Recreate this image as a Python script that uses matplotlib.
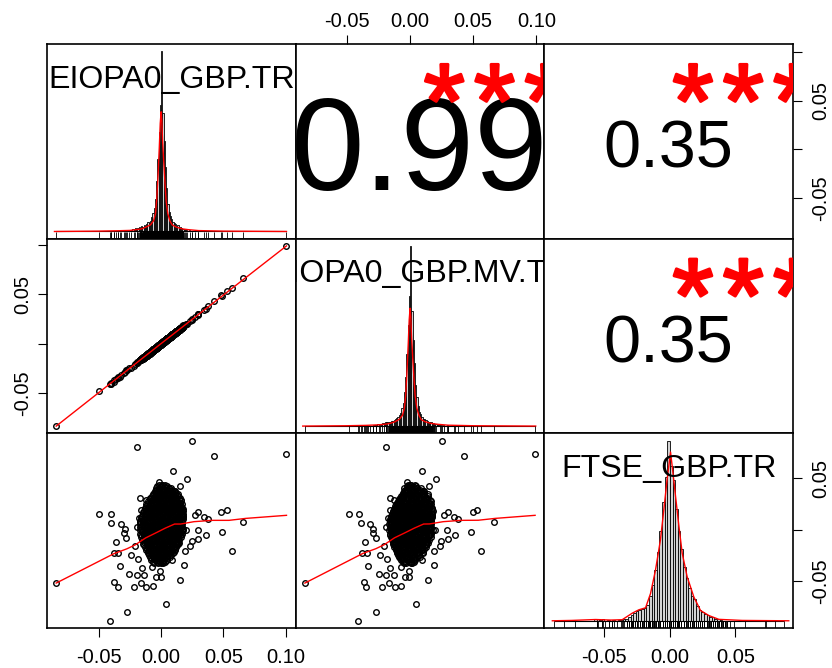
import matplotlib
matplotlib.use("Agg")
import matplotlib.pyplot as plt
import matplotlib.transforms as mtransforms
import matplotlib.patheffects as pe
from matplotlib.textpath import TextPath
from matplotlib.font_manager import FontProperties
import numpy as np

plt.rcParams['font.family'] = ['Liberation Sans', 'DejaVu Sans']

# ------------------------------------------------------------------ data
var_names = ["EIOPA0_GBP.TR", "EIOPA0_GBP.MV.TR", "FTSE_GBP.TR"]
corr_values = {(0, 1): 0.99, (0, 2): 0.35, (1, 2): 0.35}
corr_stars = {(0, 1): "***", (0, 2): "***", (1, 2): "***"}

# outlying observations (TR, MV, FTSE)
tr_out = [-0.0841, -0.0498, -0.0399, -0.0399, -0.0321, -0.0286, -0.0278, -0.0300, -0.0359, -0.0378,
          -0.0348, -0.0330, -0.0375, -0.0346, -0.0254, -0.0219, -0.0276, -0.0407, -0.0195, 0.0247,
          0.0426, 0.1005, 0.0092, 0.0207, 0.0148, 0.0480, 0.0528, 0.0659, 0.0490, 0.0571,
          0.0357, 0.0295, 0.0271, 0.0346, 0.0378, 0.0295, 0.0295, 0.0247, 0.0228, 0.0191,
          0.0182, 0.0148, 0.0040, -0.0002, -0.0045, -0.0067, -0.0123, -0.0161, -0.0134, -0.0193,
          -0.0153, -0.0075, -0.0008, -0.0185, -0.0238, -0.0206, -0.0190, -0.0179, -0.0158, -0.0166,
          -0.0123, -0.0045, -0.0018, 0.0008, 0.0022, 0.0108, 0.0161, 0.0121, 0.0169, 0.0196,
          0.0142, 0.0088]
mv_out = [-0.0833, -0.0482, -0.0405, -0.0392, -0.0315, -0.0290, -0.0270, -0.0297, -0.0355, -0.0383,
          -0.0340, -0.0334, -0.0368, -0.0350, -0.0248, -0.0225, -0.0268, -0.0412, -0.0190, 0.0250,
          0.0429, 0.0990, 0.0097, 0.0203, 0.0152, 0.0498, 0.0531, 0.0663, 0.0486, 0.0565,
          0.0352, 0.0301, 0.0266, 0.0344, 0.0381, 0.0289, 0.0298, 0.0243, 0.0233, 0.0188,
          0.0186, 0.0145, 0.0044, -0.0006, -0.0041, -0.0070, -0.0119, -0.0165, -0.0130, -0.0189,
          -0.0157, -0.0072, -0.0012, -0.0181, -0.0242, -0.0203, -0.0194, -0.0175, -0.0162, -0.0163,
          -0.0127, -0.0042, -0.0021, 0.0011, 0.0019, 0.0111, 0.0158, 0.0125, 0.0166, 0.0199,
          0.0139, 0.0091]
ftse_out = [-0.0521, 0.0153, 0.0153, 0.0062, 0.0059, 0.0010, -0.0081, -0.0036, -0.0117, -0.0228,
            -0.0228, -0.0358, -0.0511, -0.0560, -0.0430, -0.0560, -0.0808, -0.0889, 0.0805, 0.0870,
            0.0723, 0.0736, 0.0574, 0.0492, 0.0427, 0.0169, 0.0196, 0.0071, -0.0023, -0.0212,
            -0.0049, 0.0173, 0.0140, 0.0124, 0.0104, -0.0006, -0.0088, -0.0108, -0.0156, -0.0208,
            -0.0349, -0.0495, -0.0723, -0.0466, -0.0466, -0.0547, -0.0560, -0.0521, -0.0446, -0.0446,
            -0.0375, -0.0365, -0.0407, -0.0287, -0.0245, -0.0163, 0.0026, 0.0110, 0.0196, 0.0310,
            0.0287, 0.0365, 0.0462, 0.0440, 0.0398, 0.0342, 0.0293, 0.0261, 0.0130, 0.0000,
            -0.0130, -0.0293]

# dense central cloud, read row by row (one FTSE level per row)
core_ftse_rows = [0.0440, 0.0408, 0.0376, 0.0344, 0.0312, 0.0280, 0.0248, 0.0216, 0.0184, 0.0152,
                  0.0120, 0.0088, 0.0056, 0.0024, -0.0008, -0.0040, -0.0072, -0.0104, -0.0136, -0.0168,
                  -0.0200, -0.0232, -0.0264, -0.0296, -0.0328,
                  0.0424, 0.0392, 0.0360, 0.0328, 0.0296, 0.0264, 0.0232, 0.0200, 0.0168, 0.0136,
                  0.0104, 0.0072, 0.0040, 0.0008, -0.0024, -0.0056, -0.0088, -0.0120, -0.0152, -0.0184,
                  -0.0216, -0.0248, -0.0280, -0.0312]
core_tr_rows = [
    [-0.0019, 0.0006, 0.0033],
    [-0.0040, -0.0015, 0.0012, 0.0037, 0.0063, 0.0079],
    [-0.0051, -0.0026, 0.0001, 0.0025, 0.0050, 0.0077, 0.0101, 0.0112],
    [-0.0066, -0.0039, -0.0012, 0.0013, 0.0039, 0.0064, 0.0088, 0.0113, 0.0134],
    [-0.0086, -0.0060, -0.0034, -0.0009, 0.0017, 0.0043, 0.0068, 0.0094, 0.0119, 0.0148],
    [-0.0104, -0.0078, -0.0052, -0.0027, -0.0001, 0.0025, 0.0051, 0.0076, 0.0102, 0.0128, 0.0158],
    [-0.0119, -0.0093, -0.0067, -0.0041, -0.0015, 0.0011, 0.0037, 0.0063, 0.0089, 0.0115, 0.0141, 0.0168],
    [-0.0128, -0.0102, -0.0075, -0.0049, -0.0023, 0.0003, 0.0029, 0.0055, 0.0081, 0.0107, 0.0133, 0.0159, 0.0171],
    [-0.0139, -0.0113, -0.0087, -0.0060, -0.0034, -0.0008, 0.0018, 0.0044, 0.0070, 0.0096, 0.0122, 0.0148, 0.0177],
    [-0.0148, -0.0122, -0.0096, -0.0070, -0.0044, -0.0018, 0.0008, 0.0034, 0.0060, 0.0086, 0.0112, 0.0138, 0.0164, 0.0179],
    [-0.0158, -0.0132, -0.0106, -0.0080, -0.0054, -0.0028, -0.0002, 0.0024, 0.0050, 0.0076, 0.0102, 0.0128, 0.0154, 0.0178],
    [-0.0168, -0.0142, -0.0116, -0.0090, -0.0063, -0.0037, -0.0011, 0.0015, 0.0041, 0.0067, 0.0093, 0.0119, 0.0145, 0.0171],
    [-0.0171, -0.0145, -0.0119, -0.0093, -0.0067, -0.0041, -0.0015, 0.0011, 0.0037, 0.0063, 0.0089, 0.0115, 0.0141, 0.0168],
    [-0.0166, -0.0140, -0.0114, -0.0088, -0.0062, -0.0036, -0.0010, 0.0016, 0.0042, 0.0068, 0.0094, 0.0120, 0.0146, 0.0170],
    [-0.0172, -0.0146, -0.0120, -0.0094, -0.0068, -0.0042, -0.0016, 0.0010, 0.0036, 0.0062, 0.0088, 0.0114, 0.0140, 0.0166, 0.0179],
    [-0.0167, -0.0141, -0.0115, -0.0089, -0.0063, -0.0037, -0.0011, 0.0015, 0.0041, 0.0067, 0.0093, 0.0119, 0.0145, 0.0169],
    [-0.0160, -0.0134, -0.0108, -0.0082, -0.0056, -0.0030, -0.0004, 0.0022, 0.0048, 0.0074, 0.0100, 0.0126, 0.0157],
    [-0.0153, -0.0127, -0.0101, -0.0075, -0.0049, -0.0023, 0.0003, 0.0029, 0.0055, 0.0081, 0.0107, 0.0133, 0.0145],
    [-0.0143, -0.0117, -0.0091, -0.0065, -0.0039, -0.0013, 0.0013, 0.0039, 0.0065, 0.0091, 0.0117, 0.0134],
    [-0.0130, -0.0104, -0.0078, -0.0052, -0.0026, 0.0000, 0.0026, 0.0052, 0.0078, 0.0104, 0.0121],
    [-0.0118, -0.0092, -0.0066, -0.0040, -0.0014, 0.0012, 0.0038, 0.0064, 0.0090, 0.0109],
    [-0.0108, -0.0082, -0.0056, -0.0030, -0.0004, 0.0022, 0.0048, 0.0074, 0.0094],
    [-0.0093, -0.0067, -0.0041, -0.0015, 0.0011, 0.0037, 0.0069],
    [-0.0078, -0.0052, -0.0026, 0.0000, 0.0026, 0.0044],
    [-0.0054, -0.0028, -0.0002, 0.0019],
    [-0.0030, -0.0004, 0.0021, 0.0048],
    [-0.0044, -0.0019, 0.0007, 0.0032, 0.0058, 0.0084],
    [-0.0058, -0.0033, -0.0006, 0.0020, 0.0045, 0.0071, 0.0097, 0.0118],
    [-0.0074, -0.0048, -0.0022, 0.0004, 0.0030, 0.0056, 0.0081, 0.0107, 0.0133],
    [-0.0092, -0.0066, -0.0040, -0.0014, 0.0012, 0.0038, 0.0064, 0.0090, 0.0116, 0.0142],
    [-0.0108, -0.0082, -0.0056, -0.0030, -0.0004, 0.0022, 0.0048, 0.0074, 0.0100, 0.0126, 0.0152],
    [-0.0122, -0.0096, -0.0070, -0.0044, -0.0018, 0.0008, 0.0034, 0.0060, 0.0086, 0.0112, 0.0138, 0.0163],
    [-0.0133, -0.0107, -0.0081, -0.0055, -0.0029, -0.0003, 0.0023, 0.0049, 0.0075, 0.0101, 0.0127, 0.0153, 0.0172],
    [-0.0143, -0.0117, -0.0091, -0.0065, -0.0039, -0.0013, 0.0013, 0.0039, 0.0065, 0.0091, 0.0117, 0.0143, 0.0169],
    [-0.0153, -0.0127, -0.0101, -0.0075, -0.0049, -0.0023, 0.0003, 0.0029, 0.0055, 0.0081, 0.0107, 0.0133, 0.0159, 0.0177],
    [-0.0163, -0.0137, -0.0111, -0.0085, -0.0059, -0.0033, -0.0007, 0.0019, 0.0045, 0.0071, 0.0097, 0.0123, 0.0149, 0.0175],
    [-0.0168, -0.0142, -0.0116, -0.0090, -0.0064, -0.0038, -0.0012, 0.0014, 0.0040, 0.0066, 0.0092, 0.0118, 0.0144, 0.0170],
    [-0.0158, -0.0132, -0.0106, -0.0080, -0.0054, -0.0028, -0.0002, 0.0024, 0.0050, 0.0076, 0.0102, 0.0128, 0.0154],
    [-0.0159, -0.0133, -0.0107, -0.0081, -0.0055, -0.0029, -0.0003, 0.0023, 0.0049, 0.0075, 0.0101, 0.0127, 0.0153, 0.0172],
    [-0.0154, -0.0128, -0.0102, -0.0076, -0.0050, -0.0024, 0.0002, 0.0028, 0.0054, 0.0080, 0.0106, 0.0132, 0.0158],
    [-0.0163, -0.0137, -0.0111, -0.0085, -0.0059, -0.0033, -0.0007, 0.0019, 0.0045, 0.0071, 0.0097, 0.0123, 0.0149, 0.0163],
    [-0.0147, -0.0121, -0.0095, -0.0069, -0.0043, -0.0017, 0.0009, 0.0035, 0.0061, 0.0087, 0.0113, 0.0139],
    [-0.0140, -0.0114, -0.0088, -0.0062, -0.0036, -0.0010, 0.0016, 0.0042, 0.0068, 0.0094, 0.0120, 0.0138],
    [-0.0136, -0.0110, -0.0084, -0.0058, -0.0032, -0.0006, 0.0020, 0.0046, 0.0072, 0.0098, 0.0124],
    [-0.0117, -0.0091, -0.0065, -0.0039, -0.0013, 0.0013, 0.0039, 0.0065, 0.0091, 0.0113],
    [-0.0105, -0.0079, -0.0053, -0.0027, -0.0001, 0.0025, 0.0051, 0.0077, 0.0100],
    [-0.0098, -0.0072, -0.0046, -0.0020, 0.0006, 0.0032, 0.0058, 0.0078],
    [-0.0081, -0.0055, -0.0029, -0.0003, 0.0023, 0.0050],
    [-0.0063, -0.0037, -0.0011, 0.0015, 0.0029],
]
core_mv_rows = [
    [-0.0013, 0.0000, 0.0039],
    [-0.0046, -0.0009, 0.0006, 0.0043, 0.0057, 0.0085],
    [-0.0045, -0.0032, 0.0007, 0.0019, 0.0056, 0.0071, 0.0107, 0.0106],
    [-0.0060, -0.0045, -0.0006, 0.0007, 0.0045, 0.0058, 0.0094, 0.0107, 0.0140],
    [-0.0080, -0.0066, -0.0028, -0.0015, 0.0023, 0.0037, 0.0074, 0.0088, 0.0125, 0.0142],
    [-0.0098, -0.0084, -0.0046, -0.0033, 0.0005, 0.0019, 0.0057, 0.0070, 0.0108, 0.0122, 0.0164],
    [-0.0113, -0.0099, -0.0061, -0.0047, -0.0009, 0.0005, 0.0043, 0.0057, 0.0095, 0.0109, 0.0147, 0.0162],
    [-0.0122, -0.0108, -0.0069, -0.0055, -0.0017, -0.0003, 0.0035, 0.0049, 0.0087, 0.0101, 0.0139, 0.0153, 0.0177],
    [-0.0133, -0.0119, -0.0081, -0.0066, -0.0028, -0.0014, 0.0024, 0.0038, 0.0076, 0.0090, 0.0128, 0.0142, 0.0183],
    [-0.0142, -0.0128, -0.0090, -0.0076, -0.0038, -0.0024, 0.0014, 0.0028, 0.0066, 0.0080, 0.0118, 0.0132, 0.0170, 0.0173],
    [-0.0152, -0.0138, -0.0100, -0.0086, -0.0048, -0.0034, 0.0004, 0.0018, 0.0056, 0.0070, 0.0108, 0.0122, 0.0160, 0.0172],
    [-0.0162, -0.0148, -0.0110, -0.0096, -0.0057, -0.0043, -0.0005, 0.0009, 0.0047, 0.0061, 0.0099, 0.0113, 0.0151, 0.0165],
    [-0.0165, -0.0151, -0.0113, -0.0099, -0.0061, -0.0047, -0.0009, 0.0005, 0.0043, 0.0057, 0.0095, 0.0109, 0.0147, 0.0162],
    [-0.0160, -0.0146, -0.0108, -0.0094, -0.0056, -0.0042, -0.0004, 0.0010, 0.0048, 0.0062, 0.0100, 0.0114, 0.0152, 0.0164],
    [-0.0166, -0.0152, -0.0114, -0.0100, -0.0062, -0.0048, -0.0010, 0.0004, 0.0042, 0.0056, 0.0094, 0.0108, 0.0146, 0.0160, 0.0185],
    [-0.0161, -0.0147, -0.0109, -0.0095, -0.0057, -0.0043, -0.0005, 0.0009, 0.0047, 0.0061, 0.0099, 0.0113, 0.0151, 0.0163],
    [-0.0154, -0.0140, -0.0102, -0.0088, -0.0050, -0.0036, 0.0002, 0.0016, 0.0054, 0.0068, 0.0106, 0.0120, 0.0163],
    [-0.0147, -0.0133, -0.0095, -0.0081, -0.0043, -0.0029, 0.0009, 0.0023, 0.0061, 0.0075, 0.0113, 0.0127, 0.0151],
    [-0.0137, -0.0123, -0.0085, -0.0071, -0.0033, -0.0019, 0.0019, 0.0033, 0.0071, 0.0085, 0.0123, 0.0128],
    [-0.0124, -0.0110, -0.0072, -0.0058, -0.0020, -0.0006, 0.0032, 0.0046, 0.0084, 0.0098, 0.0127],
    [-0.0112, -0.0098, -0.0060, -0.0046, -0.0008, 0.0006, 0.0044, 0.0058, 0.0096, 0.0103],
    [-0.0102, -0.0088, -0.0050, -0.0036, 0.0002, 0.0016, 0.0054, 0.0068, 0.0100],
    [-0.0087, -0.0073, -0.0035, -0.0021, 0.0017, 0.0031, 0.0075],
    [-0.0072, -0.0058, -0.0020, -0.0006, 0.0032, 0.0038],
    [-0.0048, -0.0034, 0.0004, 0.0013],
    [-0.0025, -0.0010, 0.0027, 0.0043],
    [-0.0039, -0.0025, 0.0012, 0.0026, 0.0063, 0.0078],
    [-0.0053, -0.0039, -0.0001, 0.0014, 0.0050, 0.0065, 0.0102, 0.0112],
    [-0.0069, -0.0054, -0.0017, -0.0002, 0.0035, 0.0050, 0.0086, 0.0101, 0.0138],
    [-0.0087, -0.0072, -0.0035, -0.0020, 0.0017, 0.0032, 0.0069, 0.0084, 0.0121, 0.0136],
    [-0.0103, -0.0088, -0.0051, -0.0036, 0.0001, 0.0016, 0.0053, 0.0068, 0.0105, 0.0120, 0.0157],
    [-0.0117, -0.0102, -0.0065, -0.0050, -0.0013, 0.0002, 0.0039, 0.0054, 0.0091, 0.0106, 0.0143, 0.0157],
    [-0.0128, -0.0113, -0.0076, -0.0061, -0.0024, -0.0009, 0.0028, 0.0043, 0.0080, 0.0095, 0.0132, 0.0147, 0.0177],
    [-0.0138, -0.0123, -0.0086, -0.0071, -0.0034, -0.0019, 0.0018, 0.0033, 0.0070, 0.0085, 0.0122, 0.0137, 0.0174],
    [-0.0148, -0.0133, -0.0096, -0.0081, -0.0044, -0.0029, 0.0008, 0.0023, 0.0060, 0.0075, 0.0112, 0.0127, 0.0164, 0.0171],
    [-0.0158, -0.0143, -0.0106, -0.0091, -0.0054, -0.0039, -0.0002, 0.0013, 0.0050, 0.0065, 0.0102, 0.0117, 0.0154, 0.0169],
    [-0.0163, -0.0148, -0.0111, -0.0096, -0.0059, -0.0044, -0.0007, 0.0008, 0.0045, 0.0060, 0.0097, 0.0112, 0.0149, 0.0164],
    [-0.0153, -0.0138, -0.0101, -0.0086, -0.0049, -0.0034, 0.0003, 0.0018, 0.0055, 0.0070, 0.0107, 0.0122, 0.0159],
    [-0.0154, -0.0139, -0.0102, -0.0087, -0.0050, -0.0035, 0.0002, 0.0017, 0.0054, 0.0069, 0.0106, 0.0121, 0.0158, 0.0166],
    [-0.0149, -0.0134, -0.0097, -0.0082, -0.0045, -0.0030, 0.0007, 0.0022, 0.0059, 0.0074, 0.0111, 0.0126, 0.0163],
    [-0.0158, -0.0143, -0.0106, -0.0091, -0.0054, -0.0039, -0.0002, 0.0013, 0.0050, 0.0065, 0.0102, 0.0117, 0.0154, 0.0157],
    [-0.0142, -0.0127, -0.0090, -0.0075, -0.0038, -0.0023, 0.0014, 0.0029, 0.0066, 0.0081, 0.0118, 0.0133],
    [-0.0135, -0.0120, -0.0083, -0.0068, -0.0031, -0.0016, 0.0021, 0.0036, 0.0073, 0.0088, 0.0125, 0.0132],
    [-0.0131, -0.0116, -0.0079, -0.0064, -0.0027, -0.0012, 0.0025, 0.0040, 0.0077, 0.0092, 0.0129],
    [-0.0112, -0.0097, -0.0060, -0.0045, -0.0008, 0.0007, 0.0044, 0.0059, 0.0096, 0.0107],
    [-0.0100, -0.0085, -0.0048, -0.0033, 0.0004, 0.0019, 0.0056, 0.0071, 0.0105],
    [-0.0093, -0.0078, -0.0041, -0.0026, 0.0011, 0.0026, 0.0063, 0.0072],
    [-0.0076, -0.0061, -0.0024, -0.0009, 0.0028, 0.0044],
    [-0.0058, -0.0043, -0.0006, 0.0009, 0.0034],
]

# histogram bar heights (relative density) and their bins
tr_hist_start, tr_hist_width = -0.030, 0.001
tr_hist_heights = [0.005, 0, 0.005, 0.01, 0, 0.01, 0.005, 0.015, 0.01, 0.02,
                   0.015, 0.02, 0.025, 0.02, 0.03, 0.025, 0.035, 0.03, 0.04, 0.05,
                   0.045, 0.06, 0.08, 0.10, 0.13, 0.18, 0.28, 0.40, 0.55, 0.70,
                   1.00, 0.66, 0.50, 0.36, 0.24, 0.15, 0.11, 0.085, 0.07, 0.05,
                   0.045, 0.04, 0.03, 0.035, 0.02, 0.025, 0.02, 0.015, 0.01, 0.015,
                   0.01, 0.005, 0.01, 0.005, 0, 0.005, 0, 0.005, 0, 0]
mv_hist_start, mv_hist_width = -0.030, 0.001
mv_hist_heights = [0, 0.005, 0.005, 0.005, 0.01, 0, 0.01, 0.005, 0.015, 0.015,
                   0.02, 0.02, 0.02, 0.025, 0.025, 0.03, 0.03, 0.035, 0.04, 0.045,
                   0.05, 0.06, 0.075, 0.10, 0.13, 0.19, 0.27, 0.40, 0.56, 0.72,
                   1.00, 0.64, 0.48, 0.35, 0.23, 0.16, 0.11, 0.08, 0.065, 0.05,
                   0.04, 0.04, 0.035, 0.03, 0.025, 0.02, 0.02, 0.015, 0.015, 0.01,
                   0.01, 0.01, 0.005, 0.005, 0.005, 0, 0.005, 0, 0, 0.005]
ftse_hist_start, ftse_hist_width = -0.060, 0.002
ftse_hist_heights = [0, 0.01, 0.01, 0.005, 0.01, 0, 0.005, 0, 0.005, 0,
                     0.005, 0.005, 0.01, 0.01, 0.02, 0.03, 0.045, 0.055, 0.06, 0.065,
                     0.07, 0.09, 0.14, 0.20, 0.28, 0.38, 0.50, 0.66, 0.80, 1.00,
                     0.86, 0.78, 0.62, 0.50, 0.40, 0.30, 0.24, 0.18, 0.14, 0.12,
                     0.08, 0.06, 0.05, 0.04, 0.03, 0.02, 0.02, 0.01, 0.01, 0.005]

# kernel density curves (same relative units)
tr_dens_x = [-0.0855, -0.05, -0.035, -0.025, -0.018, -0.0155, -0.012, -0.0085, -0.006, -0.0045,
             -0.0035, -0.0024, -0.0015, -0.0007, 0.0, 0.0005, 0.0012, 0.002, 0.003, 0.004,
             0.0053, 0.007, 0.0088, 0.012, 0.0165, 0.022, 0.03, 0.05, 0.1005]
tr_dens_y = [0.0, 0.002, 0.004, 0.006, 0.012, 0.015, 0.025, 0.037, 0.06, 0.10,
             0.18, 0.32, 0.46, 0.60, 0.664, 0.62, 0.50, 0.40, 0.28, 0.17,
             0.10, 0.06, 0.037, 0.025, 0.015, 0.01, 0.005, 0.002, 0.0]
mv_dens_x = [-0.0850, -0.05, -0.035, -0.025, -0.018, -0.0155, -0.012, -0.0085, -0.006, -0.0045,
             -0.0035, -0.0024, -0.0015, -0.0007, 0.0, 0.0005, 0.0012, 0.002, 0.003, 0.004,
             0.0053, 0.007, 0.0088, 0.012, 0.0165, 0.022, 0.03, 0.05, 0.0995]
mv_dens_y = [0.0, 0.002, 0.004, 0.007, 0.012, 0.016, 0.024, 0.038, 0.06, 0.10,
             0.17, 0.31, 0.45, 0.59, 0.654, 0.61, 0.49, 0.39, 0.27, 0.17,
             0.10, 0.06, 0.036, 0.024, 0.015, 0.01, 0.005, 0.002, 0.0]
ftse_dens_x = [-0.0898, -0.075, -0.0568, -0.045, -0.0364, -0.0288, -0.0237, -0.0186, -0.0148, -0.0110,
               -0.0072, -0.0046, -0.0021, 0.0005, 0.0023, 0.0043, 0.0069, 0.0094, 0.0132, 0.0183,
               0.0234, 0.0298, 0.0374, 0.0552, 0.0908]
ftse_dens_y = [0.0, 0.002, 0.007, 0.004, 0.006, 0.042, 0.061, 0.072, 0.151, 0.281,
               0.450, 0.618, 0.786, 0.936, 0.823, 0.692, 0.524, 0.375, 0.244, 0.132,
               0.057, 0.029, 0.008, 0.002, 0.0]

# lowess smooth lines of the lower panels
smooth_tr_mv_x = [-0.0841, 0.0000, 0.1005]
smooth_tr_mv_y = [-0.0833, 0.0002, 0.0990]
smooth_tr_ftse_x = [-0.0841, -0.0380, -0.0273, -0.0206, -0.0125, -0.0045, 0.0035, 0.0108, 0.0156, 0.0263,
                    0.0410, 0.0544, 0.0678, 0.1005]
smooth_tr_ftse_y = [-0.0521, -0.0235, -0.0186, -0.0147, -0.0081, -0.0033, 0.0016, 0.0055, 0.0055, 0.0078,
                    0.0091, 0.0091, 0.0110, 0.0140]
smooth_mv_ftse_x = [-0.0833, -0.0376, -0.0270, -0.0204, -0.0124, -0.0045, 0.0035, 0.0107, 0.0154, 0.0262,
                    0.0405, 0.0540, 0.0673, 0.0990]
smooth_mv_ftse_y = [-0.0521, -0.0233, -0.0185, -0.0146, -0.0080, -0.0033, 0.0016, 0.0055, 0.0056, 0.0078,
                    0.0091, 0.0092, 0.0110, 0.0140]

axis_ticks = [-0.05, 0.00, 0.05, 0.10]
axis_labels = ["-0.05", "0.00", "0.05", "0.10"]

# ------------------------------------------------------------------ assemble series
tr = list(tr_out)
mv = list(mv_out)
ftse = list(ftse_out)
for fv, xr, mr in zip(core_ftse_rows, core_tr_rows, core_mv_rows):
    n = min(len(xr), len(mr))
    tr += xr[:n]
    mv += mr[:n]
    ftse += [fv] * n
series = [np.array(tr), np.array(mv), np.array(ftse)]
hists = [(tr_hist_start, tr_hist_width, tr_hist_heights),
         (mv_hist_start, mv_hist_width, mv_hist_heights),
         (ftse_hist_start, ftse_hist_width, ftse_hist_heights)]
dens = [(tr_dens_x, tr_dens_y), (mv_dens_x, mv_dens_y), (ftse_dens_x, ftse_dens_y)]
smooths = {(1, 0): (smooth_tr_mv_x, smooth_tr_mv_y),
           (2, 0): (smooth_tr_ftse_x, smooth_tr_ftse_y),
           (2, 1): (smooth_mv_ftse_x, smooth_mv_ftse_y)}

# ------------------------------------------------------------------ layout
W, H = 832, 668
col_edges = [47, 295.7, 544.3, 793]
row_edges = [44, 238.7, 433.3, 628]
TICK_FS = 14.5
LABEL_FS = 23.1
NUM_FS = 96.0          # text size of a correlation of 1 (R: cex scaled by |r|)
STAR_INK_PX = 37.0     # height of one asterisk glyph
STAR_STEP_PX = 50.3    # distance between asterisks
FONT = FontProperties(family="Liberation Sans")
PX_PER_PT = 100 / 72

fig = plt.figure(figsize=(W / 100, H / 100), dpi=100)
fig.patch.set_facecolor("white")


def panel_rect(i, j):
    x0, x1 = col_edges[j], col_edges[j + 1]
    y0, y1 = row_edges[i], row_edges[i + 1]
    return [x0 / W, 1 - y1 / H, (x1 - x0) / W, (y1 - y0) / H]


def ext(v):
    lo, hi = float(np.min(v)), float(np.max(v))
    r = hi - lo
    return lo - 0.04 * r, hi + 0.04 * r


def ink(s, size):
    return TextPath((0, 0), s, size=size, prop=FONT).get_extents()


star_ref = ink("*", 100.0)
STAR_FS = STAR_INK_PX / PX_PER_PT / star_ref.height * 100.0
star_box = ink("*", STAR_FS)
star_effect = [pe.withStroke(linewidth=2.2, foreground="red")]


def style(ax):
    for s in ax.spines.values():
        s.set_linewidth(1.2)
        s.set_color("black")
    ax.tick_params(which="both", bottom=False, top=False, left=False, right=False,
                   labelbottom=False, labeltop=False, labelleft=False, labelright=False,
                   direction="out", length=6.2, width=0.8, labelsize=TICK_FS)


axes = {}
for i in range(3):
    for j in range(3):
        ax = fig.add_axes(panel_rect(i, j))
        style(ax)
        ax.set_xlim(ext(series[j]))
        ax.set_ylim(ext(series[i]))
        axes[(i, j)] = ax
        ph = row_edges[i + 1] - row_edges[i]
        pw = col_edges[j + 1] - col_edges[j]
        if i > j:
            ax.plot(series[j], series[i], "o", ms=4.0, mfc="none", mec="black", mew=1.0,
                    linestyle="none")
            sx, sy = smooths[(i, j)]
            ax.plot(sx, sy, color="red", lw=1.0)
        elif i < j:
            r = corr_values[(i, j)]
            txt = "%.2f" % r
            fs = NUM_FS * (abs(r) + 0.3) / 1.3
            e = ink(txt, fs)
            y_num = 0.4815 - 0.5 * (e.y0 + e.y1) * PX_PER_PT / ph
            ax.text(0.5, y_num, txt, transform=ax.transAxes,
                    ha="center", va="baseline", fontsize=fs, color="black", clip_on=True)
            stars = corr_stars[(i, j)]
            ns = len(stars)
            y_star = 0.800 - 0.5 * (star_box.y0 + star_box.y1) * PX_PER_PT / ph
            for k, ch in enumerate(stars):
                cx = 0.8 + (k - (ns - 1) / 2) * STAR_STEP_PX / pw
                x_left = cx - 0.5 * (star_box.x0 + star_box.x1) * PX_PER_PT / pw
                ax.text(x_left, y_star, ch, transform=ax.transAxes, ha="left",
                        va="baseline", fontsize=STAR_FS, color="red", clip_on=True,
                        path_effects=star_effect)
        else:
            v = series[i]
            axh = fig.add_axes(panel_rect(i, j))
            axh.set_xlim(ext(v))
            start, width, heights = hists[i]
            lefts = [start + k * width for k in range(len(heights))]
            lo, hi = float(np.min(v)), float(np.max(v))
            axh.hlines(0, lo, hi, color="black", lw=0.8)
            axh.bar(lefts, heights, width=width, align="edge", color="#D3D3D3",
                    edgecolor="black", linewidth=0.6)
            dx, dy = dens[i]
            axh.plot(dx, dy, color="red", lw=1.0)
            trans = mtransforms.blended_transform_factory(axh.transData, axh.transAxes)
            axh.vlines(v, 0, 0.035, transform=trans, color="black", lw=0.6)
            mx = max(heights)
            axh.set_ylim(-0.04 * mx, 1.04 * mx)
            axh.axis("off")
            axh.text(0.5, 0.775, var_names[i], transform=axh.transAxes, ha="center",
                     va="baseline", fontsize=LABEL_FS, clip_on=True)


def set_axis(ax, which, ticks, labels, pad):
    lo, hi = ax.get_xlim() if which in ("bottom", "top") else ax.get_ylim()
    keep = [(t, l) for t, l in zip(ticks, labels) if lo <= t <= hi]
    tk = [t for t, _ in keep]
    lb = [l for _, l in keep]
    if which in ("bottom", "top"):
        ax.set_xticks(tk)
        ax.set_xticklabels(lb)
        ax.tick_params(axis="x", pad=pad, **{which: True, "label" + which: True})
        ax.set_xlim(lo, hi)
    else:
        ax.set_yticks(tk)
        ax.set_yticklabels(lb, rotation=90, va="center")
        ax.tick_params(axis="y", pad=pad, **{which: True, "label" + which: True})
        ax.set_ylim(lo, hi)


set_axis(axes[(2, 0)], "bottom", axis_ticks, axis_labels, 8.4)
set_axis(axes[(2, 2)], "bottom", axis_ticks, axis_labels, 8.4)
set_axis(axes[(0, 1)], "top", axis_ticks, axis_labels, 3.2)
sparse = ["-0.05", "", "0.05", ""]
set_axis(axes[(1, 0)], "left", axis_ticks, sparse, 4.2)
set_axis(axes[(0, 2)], "right", axis_ticks, sparse, 7.0)
set_axis(axes[(2, 2)], "right", axis_ticks, sparse, 7.0)

fig.savefig("out.png", dpi=100, facecolor="white")
